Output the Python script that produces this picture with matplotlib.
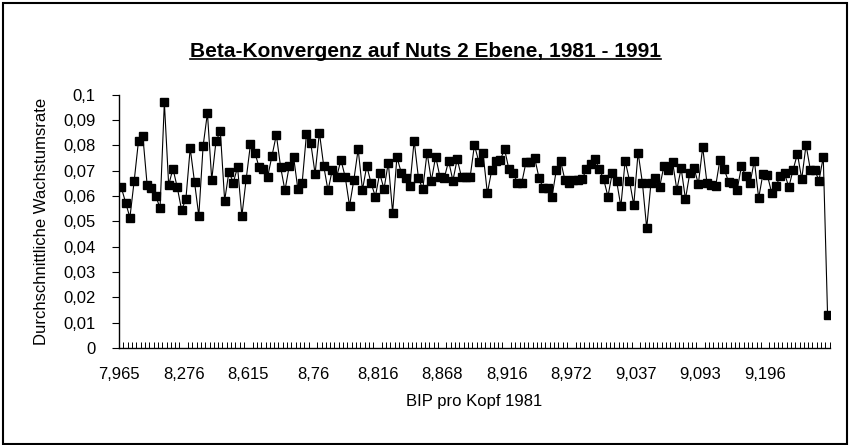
import matplotlib
matplotlib.use("Agg")
import matplotlib.pyplot as plt
from matplotlib.patches import Rectangle
from matplotlib.ticker import FixedLocator, FuncFormatter

plt.rcParams['font.family'] = ['Liberation Sans', 'DejaVu Sans']

# Durchschnittliche Wachstumsrate je Region (sortiert nach BIP pro Kopf 1981)
wachstum = [
    0.0634, 0.0574, 0.0515, 0.0661, 0.0819, 0.0838, 0.0644, 0.0631, 0.0601, 0.0552,
    0.0970, 0.0644, 0.0708, 0.0634, 0.0545, 0.0588, 0.0789, 0.0657, 0.0522, 0.0798,
    0.0928, 0.0664, 0.0818, 0.0855, 0.0582, 0.0697, 0.0653, 0.0714, 0.0522, 0.0667,
    0.0806, 0.0772, 0.0714, 0.0706, 0.0677, 0.0759, 0.0842, 0.0714, 0.0622, 0.0719,
    0.0756, 0.0627, 0.0653, 0.0845, 0.0809, 0.0688, 0.0851, 0.0719, 0.0622, 0.0704,
    0.0675, 0.0743, 0.0675, 0.0561, 0.0664, 0.0785, 0.0625, 0.0719, 0.0651, 0.0598,
    0.0690, 0.0628, 0.0732, 0.0535, 0.0754, 0.0693, 0.0671, 0.0638, 0.0819, 0.0671,
    0.0627, 0.0772, 0.0661, 0.0756, 0.0675, 0.0671, 0.0739, 0.0661, 0.0746, 0.0675,
    0.0675, 0.0675, 0.0802, 0.0736, 0.0769, 0.0611, 0.0701, 0.0740, 0.0743, 0.0785,
    0.0706, 0.0690, 0.0653, 0.0653, 0.0736, 0.0736, 0.0750, 0.0671, 0.0631, 0.0631,
    0.0596, 0.0701, 0.0740, 0.0664, 0.0653, 0.0664, 0.0664, 0.0666, 0.0706, 0.0727,
    0.0746, 0.0706, 0.0667, 0.0598, 0.0690, 0.0661, 0.0559, 0.0740, 0.0661, 0.0565,
    0.0772, 0.0653, 0.0473, 0.0653, 0.0671, 0.0635, 0.0719, 0.0701, 0.0736, 0.0625,
    0.0710, 0.0588, 0.0690, 0.0710, 0.0648, 0.0793, 0.0651, 0.0644, 0.0638, 0.0743,
    0.0706, 0.0657, 0.0653, 0.0625, 0.0717, 0.0680, 0.0651, 0.0740, 0.0592, 0.0688,
    0.0684, 0.0614, 0.0638, 0.0680, 0.0690, 0.0635, 0.0704, 0.0767, 0.0667, 0.0802,
    0.0704, 0.0704, 0.0661, 0.0754, 0.0130,
]

# beschriftete Kategorien (jede 15. Region)
bip_labels = ['7,965', '8,276', '8,615', '8,76', '8,816', '8,868',
              '8,916', '8,972', '9,037', '9,093', '9,196']
label_step = 15

y_ticks = [0, 0.01, 0.02, 0.03, 0.04, 0.05, 0.06, 0.07, 0.08, 0.09, 0.1]

fig = plt.figure(figsize=(8.51, 4.45), dpi=100)
ax = fig.add_axes([0.14, 0.218, 0.835, 0.569])

x = list(range(len(wachstum)))
ax.plot(x, wachstum, color='black', linewidth=0.8, marker='s',
        markersize=6, markerfacecolor='black', markeredgecolor='black')

ax.set_xlim(-0.5, len(wachstum) - 0.5)
ax.set_ylim(0, 0.1)

# Achsen wie in Excel: nur linke und untere Linie
for side in ['top', 'right']:
    ax.spines[side].set_visible(False)
for side in ['left', 'bottom']:
    ax.spines[side].set_linewidth(1.0)

ax.set_yticks(y_ticks)
ax.yaxis.set_major_formatter(FuncFormatter(lambda v, p: ('%g' % round(v, 2)).replace('.', ',')))
ax.tick_params(axis='y', direction='out', length=5, width=0.8, labelsize=12, pad=12)

# Beschriftung an den Kategoriegrenzen, wie im Original leicht links
ax.set_xticks([i - 0.5 for i in x[::label_step]])
ax.set_xticklabels(bip_labels)
ax.tick_params(axis='x', which='major', length=0, labelsize=12, pad=14)
ax.xaxis.set_minor_locator(FixedLocator([i - 0.5 for i in range(len(wachstum) + 1)]))
ax.tick_params(axis='x', which='minor', direction='in', length=4, width=0.7)

ax.set_xlabel('BIP pro Kopf 1981', fontsize=12, labelpad=8)
ax.set_ylabel('Durchschnittliche Wachstumsrate', fontsize=12, labelpad=10)

title = fig.text(0.5, 0.885, 'Beta-Konvergenz auf Nuts 2 Ebene, 1981 - 1991',
                 ha='center', va='center', fontsize=15, fontweight='bold')

# Unterstreichung direkt unter dem Titeltext
fig.canvas.draw()
bb = title.get_window_extent().transformed(fig.transFigure.inverted())
fig.add_artist(plt.Line2D([bb.x0, bb.x1], [bb.y0 + 0.004, bb.y0 + 0.004],
                          color='black', linewidth=1.2))

# Rahmen um das Diagramm
fig.add_artist(Rectangle((0.003, 0.003), 0.992, 0.99, transform=fig.transFigure,
                         fill=False, edgecolor='black', linewidth=1.5))

fig.savefig('out.png', dpi=100)
